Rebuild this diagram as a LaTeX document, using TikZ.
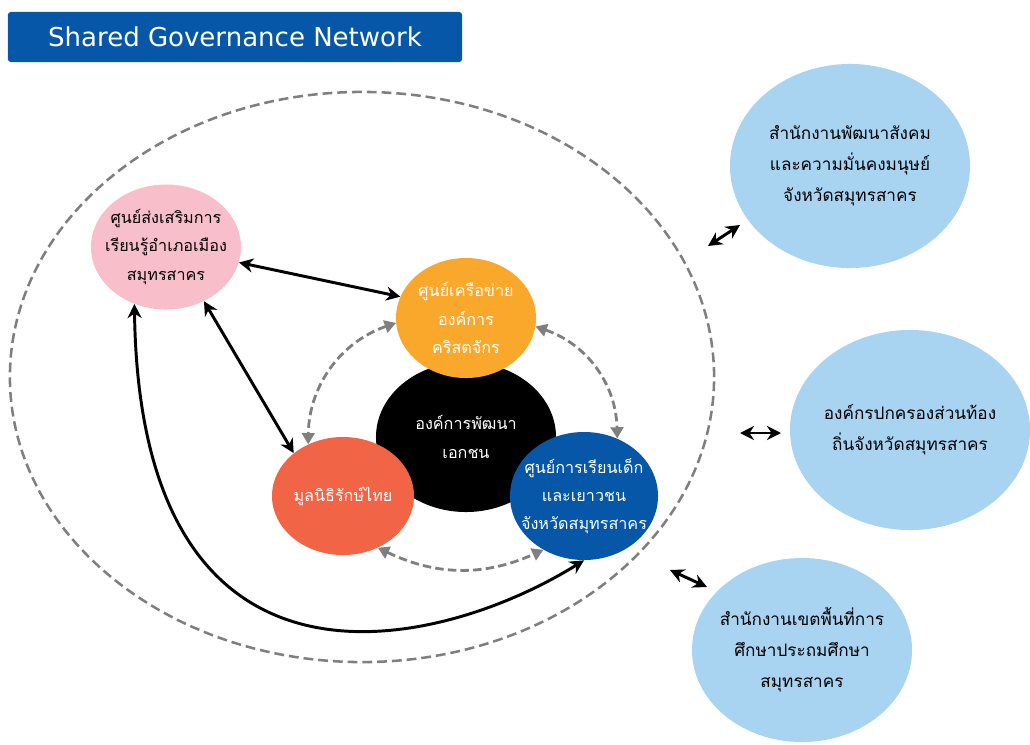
\documentclass[tikz,border=0pt]{standalone}
\usepackage{fontspec}
\newfontfamily\thaifont[Script=Thai]{Loma}
\newfontfamily\titlefont{DejaVu Sans}
\usepackage{xcolor}
\usepackage{tikz}
\usetikzlibrary{arrows.meta, shapes.geometric}

\definecolor{netblue}{HTML}{0657A7}
\definecolor{netpink}{HTML}{F8BFCA}
\definecolor{netorange}{HTML}{F9A82B}
\definecolor{netcoral}{HTML}{F26446}
\definecolor{netsky}{HTML}{A8D4F1}
\definecolor{netgray}{HTML}{7F7F7F}

\tikzset{
  blob/.style={ellipse, inner sep=-1cm, align=center,
    font=\thaifont\fontsize{11.5}{20}\selectfont},
  outer/.style={blob, fill=netsky, font=\thaifont\fontsize{12.2}{22}\selectfont},
  link/.style={{Stealth[length=10pt,width=10pt]}-{Stealth[length=10pt,width=10pt]}, line width=2.1pt},
  dlink/.style={{Triangle[length=8pt,width=9pt]}-{Triangle[length=8pt,width=9pt]},
    line width=2pt, draw=netgray, dash pattern=on 6pt off 3pt},
}

\begin{document}
\begin{tikzpicture}[x=0.025cm, y=-0.025cm]
\useasboundingbox (0,0) rectangle (1030,744);

% title
\node[fill=netblue, rounded corners=2pt, minimum width=11.35cm, minimum height=1.25cm,
  text=white, font=\titlefont\fontsize{18.5}{20}\selectfont] (title) at (235,37) {Shared Governance Network};

% network boundary
\node[ellipse, draw=netgray, line width=1.8pt, dash pattern=on 7pt off 3.5pt,
  minimum width=17.6cm, minimum height=14.25cm] (net) at (362,377) {};

% members inside
\node[blob, fill=black, text=white, minimum width=4.5cm, minimum height=3.75cm] (ngo) at (466,437) {องค์การพัฒนา\\เอกชน};
\node[blob, fill=netpink, minimum width=3.75cm, minimum height=3.125cm] (learn) at (166,247) {ศูนย์ส่งเสริมการ\\เรียนรู้อำเภอเมือง\\สมุทรสาคร};
\node[blob, fill=netorange, text=white, minimum width=3.5cm, minimum height=3cm] (church) at (466,318) {ศูนย์เครือข่าย\\องค์การ\\คริสตจักร};
\node[blob, fill=netcoral, text=white, minimum width=3.55cm, minimum height=2.95cm] (found) at (343,496) {มูลนิธิรักษ์ไทย};
\node[blob, fill=netblue, text=white, minimum width=3.7cm, minimum height=3.2cm] (youth) at (584,496) {ศูนย์การเรียนเด็ก\\และเยาวชน\\จังหวัดสมุทรสาคร};

% partners outside
\node[outer, minimum width=6cm, minimum height=5.1cm] (social) at (850,166) {สำนักงานพัฒนาสังคม\\และความมั่นคงมนุษย์\\จังหวัดสมุทรสาคร};
\node[outer, minimum width=6cm, minimum height=5cm] (local) at (910,430) {องค์กรปกครองส่วนท้อง\\ถิ่นจังหวัดสมุทรสาคร};
\node[outer, minimum width=5.5cm, minimum height=4.6cm] (school) at (802,650) {สำนักงานเขตพื้นที่การ\\ศึกษาประถมศึกษา\\สมุทรสาคร};

% links
\draw[link] (learn.-12) -- (church.162);
\draw[link] (learn.-55) -- (found.139);
\draw[link] (learn.-119) .. controls (140,725) and (440,650) .. (youth.-90);

\draw[dlink] (church.-176) to[bend right=35] (found.124);
\draw[dlink] (church.-7) to[bend left=35] (youth.60);
\draw[dlink] (found.-56) to[bend right=25] (youth.-127);

\coordinate (a1) at (708,246);
\coordinate (b1) at (740,225);
\coordinate (a2) at (740,433);
\coordinate (b2) at (781,433);
\coordinate (a3) at (670,570);
\coordinate (b3) at (707,587);
\draw[link] (a1) -- (b1);
\draw[link] (a2) -- (b2);
\draw[link] (a3) -- (b3);
\end{tikzpicture}
\end{document}
